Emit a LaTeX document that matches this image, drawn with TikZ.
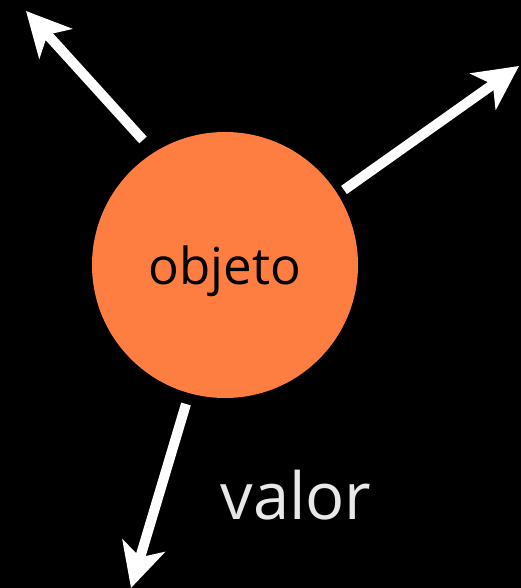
\documentclass[tikz,border=0pt]{standalone}
\usepackage{fontspec}
\setmainfont{Open Sans}
\usetikzlibrary{arrows.meta}
\definecolor{objorange}{HTML}{FE7E42}
\definecolor{lightgray}{HTML}{E8E8E8}
\tikzset{
  ray/.style={draw=white, line width=10pt, -{Stealth[length=44pt,width=44pt,inset=12pt]}}
}
\begin{document}
\begin{tikzpicture}[x=1pt,y=1pt]
                \fill[black] (0,0) rectangle (521,588);
                \useasboundingbox (0,0) rectangle (521,588);

                \node[circle, fill=objorange, minimum size=266pt, inner sep=0pt, text depth=0pt, font=\fontsize{51}{60}\selectfont] (obj) at (225, 323) {objeto};
                \node[text=lightgray, inner sep=0pt, font=\fontsize{65}{78}\selectfont] (val) at (296, 93) {valor};

                \coordinate (A1) at (143, 448);
                \coordinate (B1) at (26, 577);
                \coordinate (A2) at (344, 398);
                \coordinate (B2) at (519, 522);
                \coordinate (A3) at (186, 184);
                \coordinate (B3) at (131, 0);

                \draw[ray] (A1) to (B1);
                \draw[ray] (A2) to (B2);
                \draw[ray] (A3) to (B3);
            \end{tikzpicture}
\end{document}
